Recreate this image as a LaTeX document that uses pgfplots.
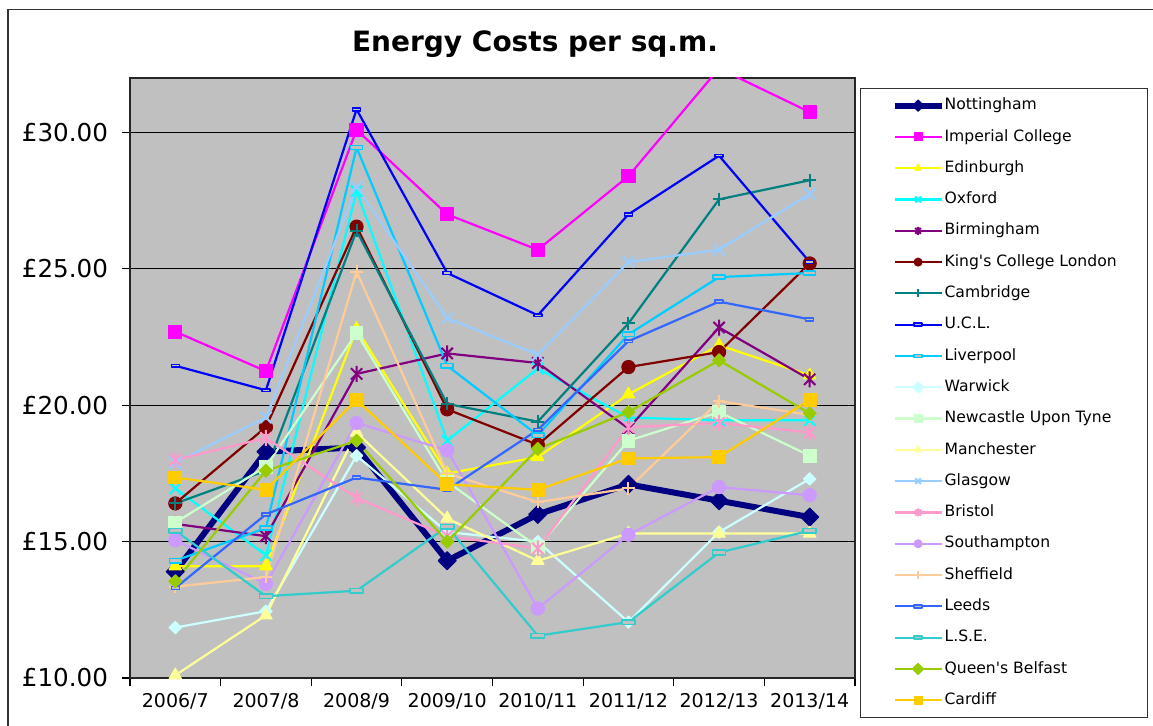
\documentclass[border=0pt]{standalone}
\usepackage{fontspec}
\setmainfont{DejaVu Sans}[Ligatures=TeXOff]
\usepackage{pgfplots}
\pgfplotsset{compat=1.18}
\usetikzlibrary{plotmarks}

\definecolor{plotbg}{HTML}{C0C0C0}
\definecolor{cNott}{HTML}{000080}
\definecolor{cImp}{HTML}{FF00FF}
\definecolor{cEdin}{HTML}{FFFF00}
\definecolor{cOxf}{HTML}{00FFFF}
\definecolor{cBirm}{HTML}{800080}
\definecolor{cKCL}{HTML}{800000}
\definecolor{cCamb}{HTML}{008080}
\definecolor{cUCL}{HTML}{0000FF}
\definecolor{cLiv}{HTML}{00CCFF}
\definecolor{cWarw}{HTML}{CCFFFF}
\definecolor{cNewc}{HTML}{CCFFCC}
\definecolor{cManc}{HTML}{FFFF99}
\definecolor{cGlas}{HTML}{99CCFF}
\definecolor{cBris}{HTML}{FF99CC}
\definecolor{cSoton}{HTML}{CC99FF}
\definecolor{cSheff}{HTML}{FFCC99}
\definecolor{cLeeds}{HTML}{3366FF}
\definecolor{cLSE}{HTML}{33CCCC}
\definecolor{cQUB}{HTML}{99CC00}
\definecolor{cCard}{HTML}{FFCC00}

% Excel-style marks
\pgfdeclareplotmark{xstar}{%
  \pgfpathmoveto{\pgfqpoint{-.7071\pgfplotmarksize}{-.7071\pgfplotmarksize}}%
  \pgfpathlineto{\pgfqpoint{.7071\pgfplotmarksize}{.7071\pgfplotmarksize}}%
  \pgfpathmoveto{\pgfqpoint{-.7071\pgfplotmarksize}{.7071\pgfplotmarksize}}%
  \pgfpathlineto{\pgfqpoint{.7071\pgfplotmarksize}{-.7071\pgfplotmarksize}}%
  \pgfpathmoveto{\pgfqpoint{0pt}{-\pgfplotmarksize}}%
  \pgfpathlineto{\pgfqpoint{0pt}{\pgfplotmarksize}}%
  \pgfusepathqstroke}
\pgfdeclareplotmark{dashbox}{%
  \pgfpathrectangle{\pgfqpoint{-\pgfplotmarksize}{-.35\pgfplotmarksize}}{\pgfqpoint{2\pgfplotmarksize}{.7\pgfplotmarksize}}%
  \pgfusepathqfillstroke}

\pgfplotstableread{
x Nott Imp Edin Oxf Birm KCL Camb UCL Liv Warw Newc Manc Glas Bris Soton Sheff Leeds LSE QUB Card
0 13.9 22.7 14.1 16.95 15.65 16.4 16.4 21.45 14.3 11.85 15.7 10.1 17.9 18.0 15.05 13.35 13.3 15.4 13.55 17.35
1 18.3 21.25 14.1 14.5 15.2 19.2 17.6 20.55 15.5 12.45 17.75 12.3 19.55 18.8 13.45 13.7 16.0 13.0 17.6 16.9
2 18.45 30.1 22.8 27.85 21.15 26.55 26.4 30.85 29.45 18.15 22.65 19.0 28.0 16.6 19.35 24.9 17.35 13.2 18.7 20.2
3 14.3 27.0 17.5 18.7 21.9 19.85 20.05 24.85 21.45 15.35 17.2 15.85 23.2 15.2 18.35 17.5 16.9 15.55 15.0 17.1
4 16.0 25.7 18.1 21.35 21.55 18.55 19.4 23.3 18.9 15.0 14.8 14.3 21.85 14.75 12.55 16.45 19.1 11.55 18.4 16.9
5 17.1 28.4 20.4 19.55 19.15 21.4 23.0 27.0 22.6 12.05 18.7 15.3 25.25 19.2 15.25 16.95 22.35 12.05 19.75 18.05
6 16.5 32.35 22.2 19.45 22.85 21.95 27.55 29.15 24.7 15.35 19.75 15.3 25.7 19.35 17.0 20.15 23.8 14.6 21.65 18.1
7 15.9 30.75 21.1 19.45 20.95 25.2 28.25 25.25 24.85 17.3 18.15 15.3 27.75 19.0 16.7 19.65 23.15 15.4 19.7 20.2
}\costs

\begin{document}
\begin{tikzpicture}
\useasboundingbox (0,0) rectangle (576.5pt,363pt);
\fill[white] (0,0) rectangle (576.5pt,363pt);
\draw[black!80, line width=0.7pt] (4pt,0) -- (4pt,358.25pt) -- (576.5pt,358.25pt);
\node[font=\bfseries\fontsize{14}{16}\selectfont] at (267.5pt,341pt) {Energy Costs per sq.m.};

\begin{axis}[
  at={(65pt,24pt)}, anchor=south west,
  scale only axis, width=362.5pt, height=300pt,
  xmin=-0.5, xmax=7.5, ymin=10, ymax=32,
  axis background/.style={fill=plotbg},
  xtick={-0.5,0.5,...,7.5}, x tick label as interval,
  xticklabels={2006/7,2007/8,2008/9,2009/10,2010/11,2011/12,2012/13,2013/14},
  ytick={10,15,20,25,30},
  yticklabels={£10.00,£15.00,£20.00,£25.00,£30.00},
  xtick pos=bottom, ytick pos=left,
  tick align=outside, major tick length=4pt,
  tick style={black, line width=0.6pt},
  ymajorgrids, grid style={black, line width=0.5pt},
  axis line style={black!85, line width=0.8pt},
  yticklabel style={font=\fontsize{12.3}{14}\selectfont, xshift=-3.5pt},
  xticklabel style={font=\fontsize{9.5}{11}\selectfont},
  every axis plot/.append style={line width=1.1pt, line join=round},
  legend cell align=left,
  legend style={at={(1.0069,0.98333)}, anchor=north west,
    draw=black!80, line width=0.6pt, fill=white,
    font=\fontsize{7.8}{9}\selectfont,
    inner xsep=15.5pt, inner ysep=4.6pt,
    row sep=7.85pt, column sep=0pt,
    nodes={inner sep=0pt, text height=6pt, text depth=1.8pt}},
  legend image code/.code={%
    \draw[mark repeat=2, mark phase=2, mark size=2pt]
      plot coordinates {(0pt,0pt) (11.75pt,0pt) (23.5pt,0pt)};},
]
\addplot[cNott, line width=3pt, mark=square*, mark size=3.2pt, mark options={rotate=45, fill=cNott, line width=0.5pt}] table[y=Nott] {\costs};
\addlegendentry{Nottingham}
\addplot[cImp, mark=square*, mark size=3.3pt, mark options={fill=cImp, line width=0.5pt}] table[y=Imp] {\costs};
\addlegendentry{Imperial College}
\addplot[cEdin, mark=triangle*, mark size=3.6pt, mark options={fill=cEdin, line width=0.5pt}] table[y=Edin] {\costs};
\addlegendentry{Edinburgh}
\addplot[cOxf, mark=x, mark size=4pt, mark options={line width=1pt}] table[y=Oxf] {\costs};
\addlegendentry{Oxford}
\addplot[cBirm, mark=xstar, mark size=4pt, mark options={line width=1pt}] table[y=Birm] {\costs};
\addlegendentry{Birmingham}
\addplot[cKCL, mark=*, mark size=3.3pt, mark options={fill=cKCL, line width=0.5pt}] table[y=KCL] {\costs};
\addlegendentry{King's College London}
\addplot[cCamb, mark=+, mark size=3.2pt, mark options={line width=1pt}] table[y=Camb] {\costs};
\addlegendentry{Cambridge}
\addplot[cUCL, mark=dashbox, mark size=2pt, mark options={fill=plotbg, line width=0.8pt}] table[y=UCL] {\costs};
\addlegendentry{U.C.L.}
\addplot[cLiv, mark=dashbox, mark size=3pt, mark options={fill=plotbg, line width=0.8pt}] table[y=Liv] {\costs};
\addlegendentry{Liverpool}
\addplot[cWarw, mark=square*, mark size=2.2pt, mark options={rotate=45, fill=cWarw, line width=0.5pt}] table[y=Warw] {\costs};
\addlegendentry{Warwick}
\addplot[cNewc, mark=square*, mark size=3.2pt, mark options={fill=cNewc, line width=0.5pt}] table[y=Newc] {\costs};
\addlegendentry{Newcastle Upon Tyne}
\addplot[cManc, mark=triangle*, mark size=3.6pt, mark options={fill=cManc, line width=0.5pt}] table[y=Manc] {\costs};
\addlegendentry{Manchester}
\addplot[cGlas, mark=x, mark size=4pt, mark options={line width=1pt}] table[y=Glas] {\costs};
\addlegendentry{Glasgow}
\addplot[cBris, mark=xstar, mark size=4pt, mark options={line width=1pt}] table[y=Bris] {\costs};
\addlegendentry{Bristol}
\addplot[cSoton, mark=*, mark size=3.3pt, mark options={fill=cSoton, line width=0.5pt}] table[y=Soton] {\costs};
\addlegendentry{Southampton}
\addplot[cSheff, mark=+, mark size=3.2pt, mark options={line width=1pt}] table[y=Sheff] {\costs};
\addlegendentry{Sheffield}
\addplot[cLeeds, mark=dashbox, mark size=2pt, mark options={fill=plotbg, line width=0.8pt}] table[y=Leeds] {\costs};
\addlegendentry{Leeds}
\addplot[cLSE, mark=dashbox, mark size=3.3pt, mark options={fill=plotbg, line width=0.8pt}] table[y=LSE] {\costs};
\addlegendentry{L.S.E.}
\addplot[cQUB, mark=square*, mark size=2.3pt, mark options={rotate=45, fill=cQUB, line width=0.5pt}] table[y=QUB] {\costs};
\addlegendentry{Queen's Belfast}
\addplot[cCard, mark=square*, mark size=3.2pt, mark options={fill=cCard, line width=0.5pt}] table[y=Card] {\costs};
\addlegendentry{Cardiff}
\end{axis}
\end{tikzpicture}
\end{document}
